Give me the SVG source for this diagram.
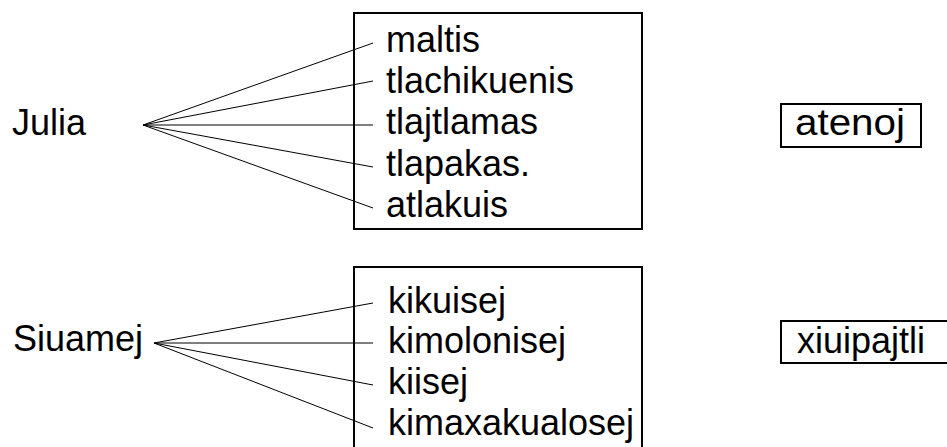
<svg xmlns="http://www.w3.org/2000/svg" width="947" height="447" viewBox="0 0 947 447">
<style>
text{font-family:"Liberation Sans",Arial,sans-serif;font-size:36px;fill:#000}
.box{fill:none;stroke:#000;stroke-width:2}
.c line{stroke:#000;stroke-width:1}
</style>
<rect width="947" height="447" fill="#fff"/>
<g id="julia"><text x="12" y="135">Julia</text></g>
<g id="siuamej"><text x="13" y="351">Siuamej</text></g>
<g id="box1">
<rect class="box" x="354" y="13" width="288" height="216"/>
<text x="386" y="52">maltis</text>
<text x="386" y="93">tlachikuenis</text>
<text x="386" y="134">tlajtlamas</text>
<text x="386" y="176">tlapakas.</text>
<text x="386" y="217">atlakuis</text>
</g>
<g id="box2">
<rect class="box" x="354" y="267" width="288" height="200"/>
<text x="388" y="313">kikuisej</text>
<text x="388" y="353">kimolonisej</text>
<text x="388" y="394">kiisej</text>
<text x="388" y="435">kimaxakualosej</text>
</g>
<g id="atenoj">
<rect class="box" x="781" y="104" width="140" height="43"/>
<text x="795" y="135" textLength="110" lengthAdjust="spacingAndGlyphs">atenoj</text>
</g>
<g id="xiuipajtli">
<rect class="box" x="781" y="321" width="170" height="42"/>
<text x="797" y="353">xiuipajtli</text>
</g>
<g class="c" id="connectors">
<line x1="143" y1="125" x2="373" y2="43"/>
<line x1="143" y1="125" x2="373" y2="81"/>
<line x1="143" y1="125" x2="373" y2="125"/>
<line x1="143" y1="125" x2="373" y2="167"/>
<line x1="143" y1="125" x2="373" y2="208"/>
<line x1="154" y1="343" x2="373" y2="303"/>
<line x1="154" y1="343" x2="373" y2="343"/>
<line x1="154" y1="343" x2="373" y2="385"/>
<line x1="154" y1="343" x2="373" y2="428"/>
</g>
</svg>
